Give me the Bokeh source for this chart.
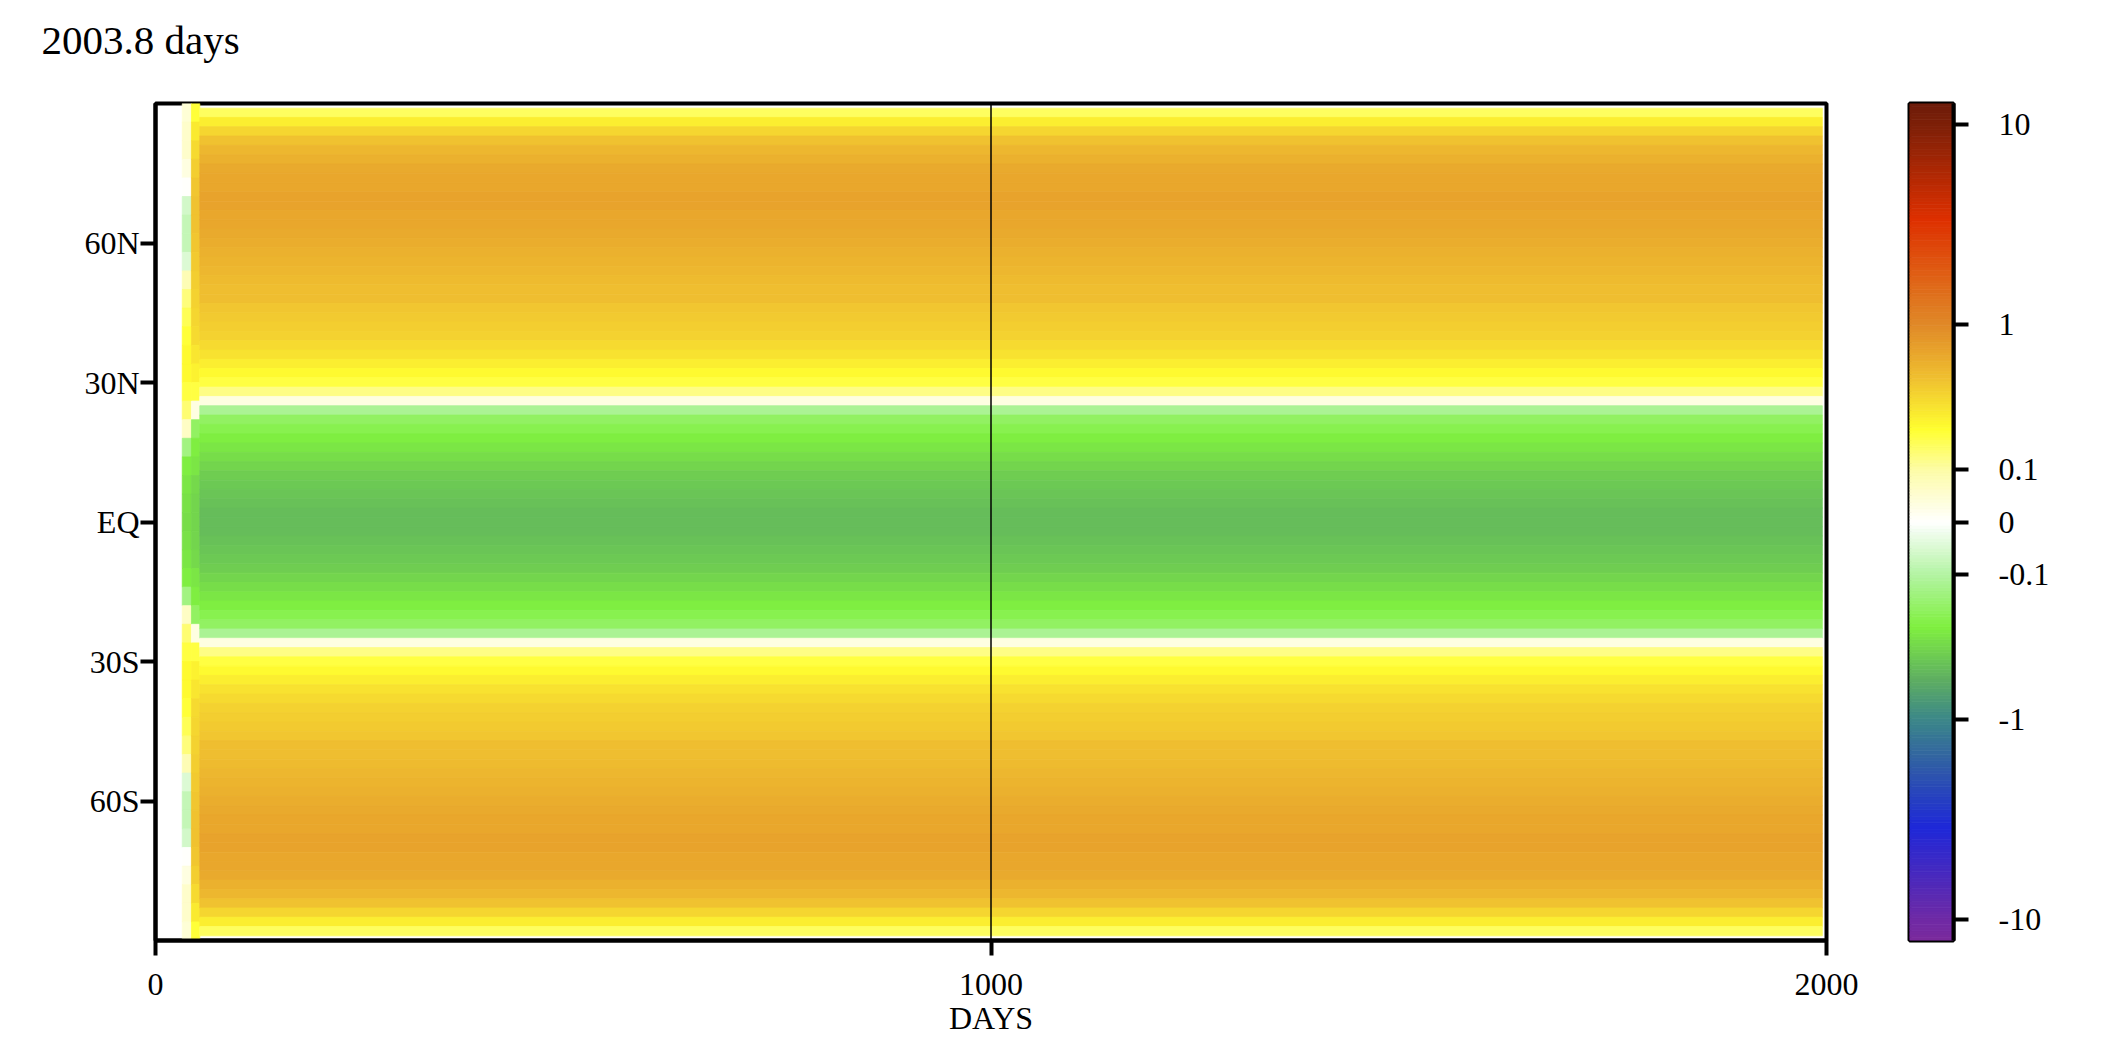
import numpy as np
from bokeh.plotting import figure
from bokeh.layouts import row
from bokeh.models import Range1d, FixedTicker, Span, ColumnDataSource, Title
from bokeh.transform import linear_cmap
from bokeh.embed import file_html
from bokeh.resources import INLINE

# ---------------- data ----------------
title_text = "2003.8 days"
day_ticks = [0, 1000, 2000]
lat_ticks = [-60, -30, 0, 30, 60]
lat_tick_labels = ["60S", "30S", "EQ", "30N", "60N"]
cbar_ticks = [-10, -1, -0.1, 0, 0.1, 1, 10]
cbar_tick_labels = ["-10", "-1", "-0.1", "0", "0.1", "1", "10"]

# main (steady) block: days 53 -> 1995, latitude centres 88N .. 88S every 2 deg
main_days = [53, 1995]
lat_main = list(range(88, -89, -2))
val_main = [0.17, 0.28, 0.38, 0.48, 0.55, 0.61, 0.65, 0.68, 0.70, 0.71,
            0.71, 0.70, 0.68, 0.66, 0.64, 0.61, 0.58, 0.56, 0.54, 0.52,
            0.50, 0.47, 0.45, 0.43, 0.40, 0.37, 0.33, 0.28, 0.24, 0.20,
            0.13, 0.03, -0.12, -0.20, -0.25, -0.29, -0.32, -0.35, -0.39, -0.42,
            -0.45, -0.47, -0.49, -0.50,
            -0.50,
            -0.50, -0.49, -0.47, -0.45,
            -0.42, -0.39, -0.35, -0.32, -0.29, -0.25, -0.20, -0.12, 0.03, 0.13,
            0.20, 0.24, 0.28, 0.33, 0.37, 0.40, 0.43, 0.45, 0.47, 0.50,
            0.52, 0.54, 0.56, 0.58, 0.61, 0.64, 0.66, 0.68, 0.70, 0.71,
            0.71, 0.70, 0.68, 0.65, 0.61, 0.55, 0.48, 0.38, 0.28, 0.17]

# early spin-up columns, latitude centres 88N .. 88S every 4 deg
strip1_days = [32, 43]
strip2_days = [43, 53]
lat_strip = list(range(88, -89, -4))
val_strip1 = [0.04, 0.05, 0.05, 0.03, 0.00, -0.05, -0.07, -0.07, -0.04, 0.08,
              0.14, 0.18, 0.22, 0.24, 0.24, 0.20, 0.15, 0.06, -0.15, -0.28,
              -0.32, -0.34,
              -0.35,
              -0.34, -0.32,
              -0.28, -0.15, 0.06, 0.15, 0.20, 0.24, 0.24, 0.22, 0.18, 0.14,
              0.08, -0.04, -0.07, -0.07, -0.05, 0.00, 0.03, 0.05, 0.05, 0.04]
val_strip2 = [0.22, 0.30, 0.36, 0.42, 0.46, 0.48, 0.48, 0.47, 0.45, 0.43,
              0.41, 0.39, 0.36, 0.32, 0.27, 0.20, 0.03, -0.20, -0.28, -0.32,
              -0.36, -0.38,
              -0.38,
              -0.38, -0.36,
              -0.32, -0.28, -0.20, 0.03, 0.20, 0.27, 0.32, 0.36, 0.39, 0.41,
              0.43, 0.45, 0.47, 0.48, 0.48, 0.46, 0.42, 0.36, 0.30, 0.22]

# colour scale (symmetric log-like)
C = 0.13
VMAX = 12.6
anchor_vals = [-12.6, -10, -3.6, -1.8, -1.0, -0.59, -0.28, -0.1, 0.0,
               0.1, 0.23, 0.5, 1.0, 3.5, 10, 12.6]
anchor_cols = ["#7a2a9c", "#6e2aa6", "#1e28d8", "#2f5aa8", "#3c8888", "#60b060",
               "#80f040", "#b4f4a4", "#ffffff", "#fdfca8", "#ffff30", "#f0c030",
               "#e08a28", "#de3000", "#7e2008", "#6e1c0a"]


def tf(v):
    v = np.asarray(v, dtype=float)
    return np.sign(v) * np.log1p(np.abs(v) / C)


FLO, FHI = float(tf(-VMAX)), float(tf(VMAX))
N = 256
fa = tf(anchor_vals)
rgb = np.array([[int(c[i:i + 2], 16) for i in (1, 3, 5)] for c in anchor_cols], dtype=float)
fgrid = np.linspace(FLO, FHI, N)
pal_rgb = np.stack([np.interp(fgrid, fa, rgb[:, k]) for k in range(3)], axis=1)
palette = ["#%02x%02x%02x" % tuple(int(round(x)) for x in c) for c in pal_rgb]

FONT = "Liberation Serif"

# ---------------- layout (pixels) ----------------
H = 1038
FR_L, FR_R, FR_T, FR_B = 155, 1826, 103, 940

# ---------------- main figure ----------------
p = figure(width=1866, height=H, x_range=Range1d(0, 2000), y_range=Range1d(-90, 90),
           output_backend="svg", toolbar_location=None,
           min_border_left=FR_L, min_border_right=1866 - FR_R,
           min_border_top=FR_T, min_border_bottom=H - FR_B)

# spacer panel between frame and title (first "above" panel sits next to the frame)
p.add_layout(Title(text=" ", text_font=FONT, text_font_size="10px", standoff=28), "above")
p.add_layout(Title(text=title_text, text_font=FONT, text_font_size="41px",
                   text_font_style="normal", text_color="black", align="left",
                   vertical_align="bottom", offset=-114, standoff=0), "above")


def block(days, lats, vals, h):
    lats = np.asarray(lats, dtype=float)
    return ColumnDataSource(dict(
        left=[days[0]] * len(lats), right=[days[1]] * len(lats),
        top=list(lats + h / 2), bottom=list(lats - h / 2),
        tv=list(tf(vals))))


cmap = linear_cmap("tv", palette, FLO, FHI)
for src in (block(strip1_days, lat_strip, val_strip1, 4.0),
            block(strip2_days, lat_strip, val_strip2, 4.0),
            block(main_days, lat_main, val_main, 2.0)):
    p.quad(left="left", right="right", top="top", bottom="bottom", source=src,
           fill_color=cmap, line_color=cmap, line_width=0.8)

p.add_layout(Span(location=1000, dimension="height", line_color="black", line_width=1.5))

p.xgrid.visible = False
p.ygrid.visible = False
p.background_fill_color = "white"
p.border_fill_color = "white"
p.outline_line_color = "black"
p.outline_line_width = 4
p.outline_line_alpha = 1

xax = p.below[0]
yax = p.left[0]
xax.ticker = FixedTicker(ticks=day_ticks)
xax.axis_label = "DAYS"
yax.ticker = FixedTicker(ticks=lat_ticks)
yax.major_label_overrides = {k: v for k, v in zip(lat_ticks, lat_tick_labels)}
for ax in (xax, yax):
    ax.axis_line_width = 4
    ax.axis_line_color = "black"
    ax.major_tick_line_width = 4
    ax.major_tick_line_color = "black"
    ax.major_tick_out = 15
    ax.major_tick_in = 0
    ax.minor_tick_line_color = None
    ax.major_label_text_font = FONT
    ax.major_label_text_font_size = "32px"
    ax.major_label_text_color = "black"
    ax.axis_label_text_font = FONT
    ax.axis_label_text_font_size = "32px"
    ax.axis_label_text_font_style = "normal"
    ax.axis_label_text_color = "black"
xax.major_label_standoff = 18
xax.axis_label_standoff = 2
yax.major_label_standoff = 1

# ---------------- colour bar figure ----------------
cb = figure(width=190, height=H, x_range=Range1d(0, 1), y_range=Range1d(FLO, FHI),
            output_backend="svg", toolbar_location=None,
            x_axis_location=None, y_axis_location="right",
            min_border_left=43, min_border_right=103,
            min_border_top=FR_T, min_border_bottom=H - FR_B)
edges = np.linspace(FLO, FHI, N + 1)
cb_src = ColumnDataSource(dict(bottom=list(edges[:-1]), top=list(edges[1:]),
                               color=palette))
cb.quad(left=0, right=1, bottom="bottom", top="top", fill_color="color",
        line_color="color", line_width=0.8, source=cb_src)
cb.xgrid.visible = False
cb.ygrid.visible = False
cb.outline_line_color = "black"
cb.outline_line_width = 4
cb.outline_line_alpha = 1
cb_tick_pos = [round(float(tf(v)), 6) for v in cbar_ticks]
cb.yaxis.ticker = FixedTicker(ticks=cb_tick_pos)
cb.yaxis.major_label_overrides = {k: v for k, v in zip(cb_tick_pos, cbar_tick_labels)}
ax = cb.yaxis[0]
ax.axis_line_width = 4
ax.axis_line_color = "black"
ax.major_tick_line_width = 4
ax.major_tick_out = 15
ax.major_tick_in = 0
ax.minor_tick_line_color = None
ax.major_label_text_font = FONT
ax.major_label_text_font_size = "32px"
ax.major_label_text_color = "black"
ax.major_label_standoff = 30

layout = row(p, cb)
open("out.html", "w").write(file_html(layout, INLINE))
